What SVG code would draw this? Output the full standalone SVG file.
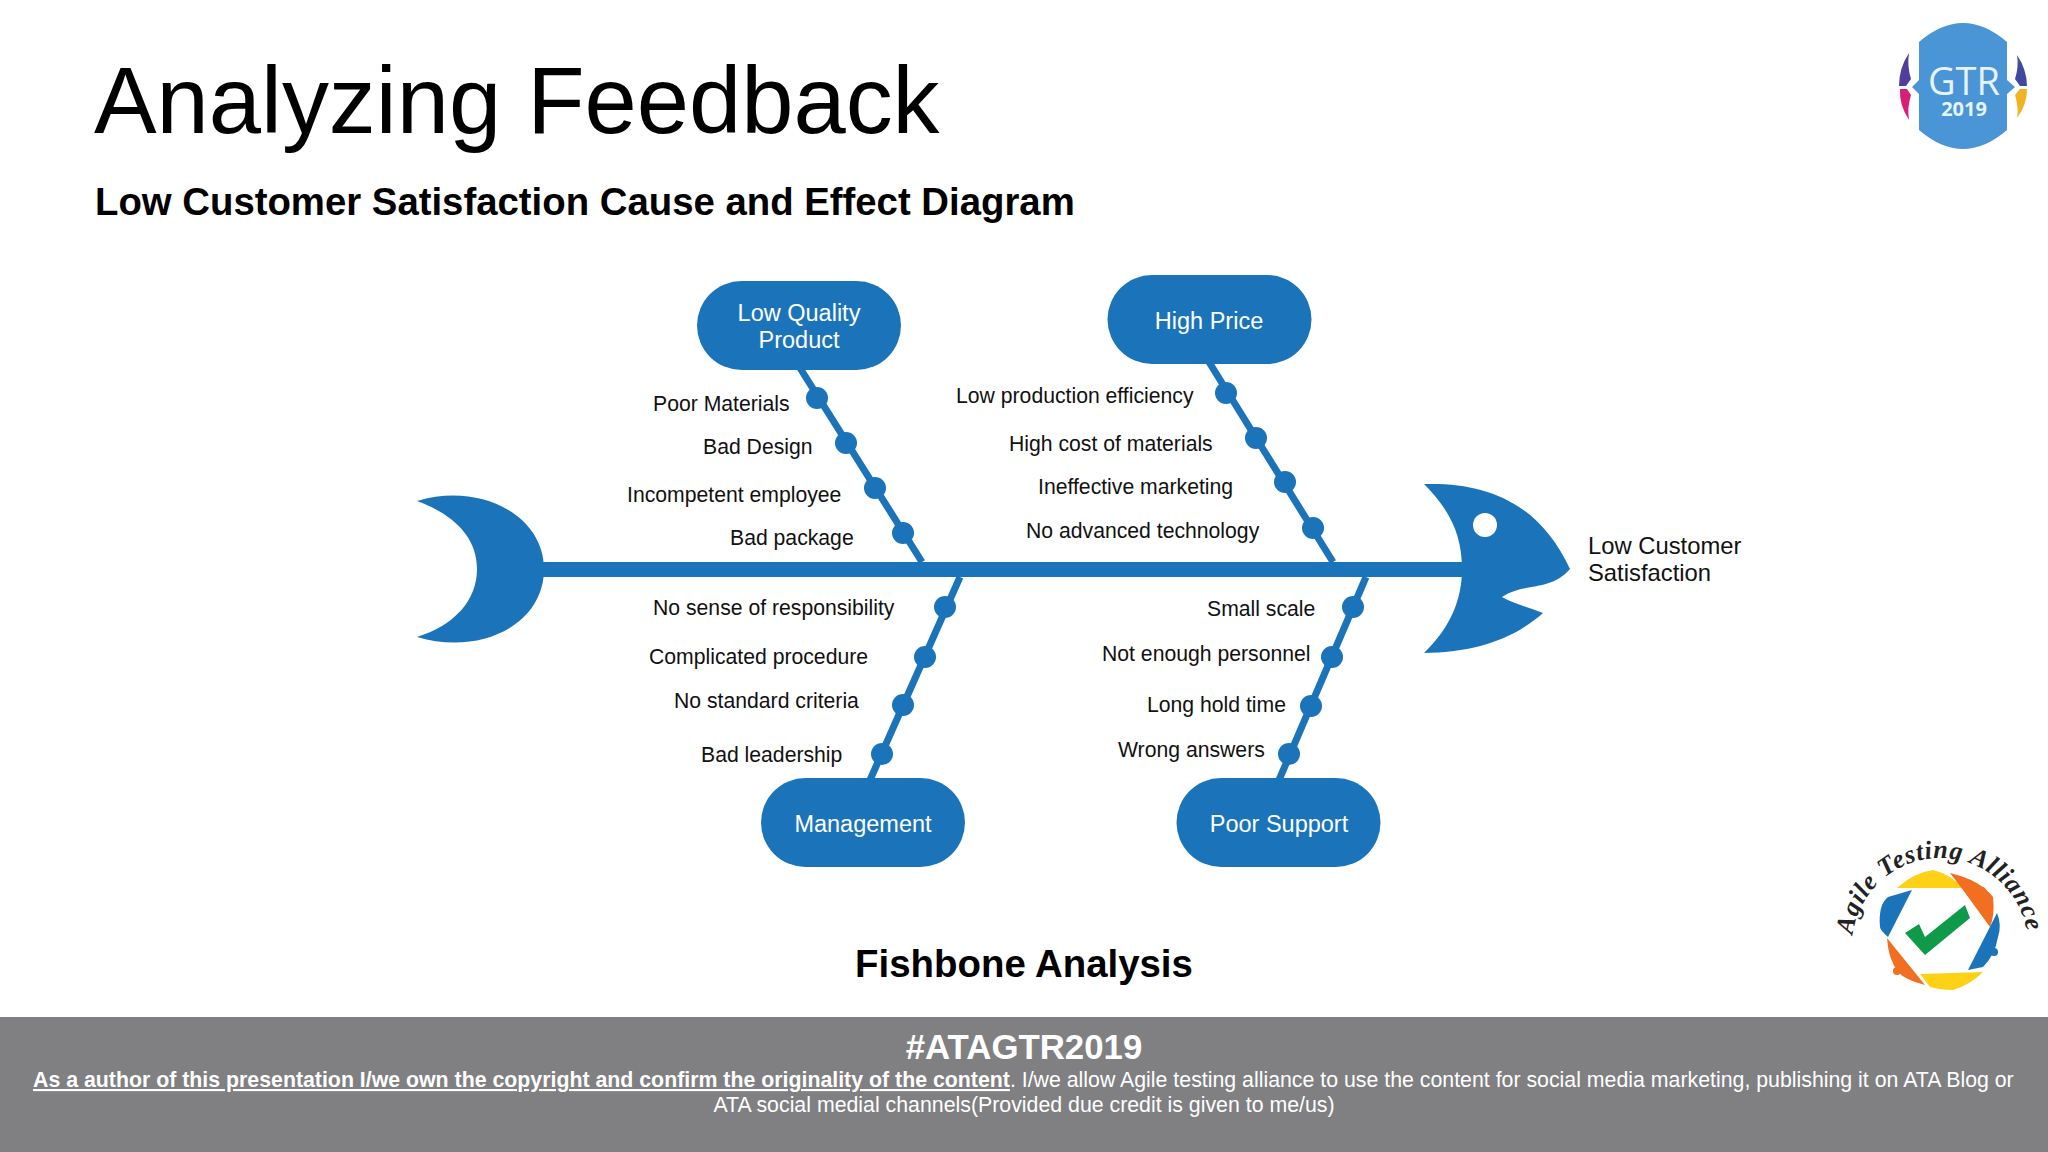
<svg xmlns="http://www.w3.org/2000/svg" width="2048" height="1152" viewBox="0 0 2048 1152">
<style>
text{font-family:"Liberation Sans",Arial,sans-serif}
.b{fill:#1b74ba}
.bone{stroke:#1b74ba;stroke-width:7;fill:none}
.l{font-size:21.2px;fill:#111}
.h{font-size:23.8px;fill:#111}
.n{font-size:23.5px;fill:#fff;text-anchor:middle}
.f{font-size:21.32px;fill:#fff}
.logo{font-family:"Open Sans",sans-serif;fill:#e6f3fb;text-anchor:middle}
.ata{font-family:"Liberation Serif",serif;font-style:italic;font-weight:700;fill:#222;font-size:26px}
</style>
<defs><path id="arc" d="M1852.700 935A88 88 0 0 1 2027.300 935"/></defs>
<rect width="2048" height="1152" fill="#fff"/>
<text x="94" y="133" font-size="93.9" fill="#000">Analyzing Feedback</text>
<text x="95" y="215" font-size="38.35" font-weight="700" fill="#000">Low Customer Satisfaction Cause and Effect Diagram</text>
<g id="connectors">
<rect id="spine" class="b" x="535" y="562" width="935" height="15"/>
<path class="bone" d="M800 368L922 562M1209 362L1333 562M960 577L870 780M1366 577L1279 780"/>
</g>
<g id="tail"><path class="b" d="M417 501C480 482 544 515 544 569C544 625 480 656 417 637C455 625 477 600 477 569C477 538 455 515 417 501Z"/></g>
<g id="head"><path class="b" d="M1424 484C1490 482 1540 505 1570 569C1550 592 1525 582 1502 597C1515 604 1530 608 1543 613C1510 642 1470 652 1424 653C1450 628 1462 600 1462 569C1462 535 1450 510 1424 484Z"/><circle cx="1485" cy="525" r="12" fill="#fff"/></g>
<g id="head-label"><text class="h" x="1588" y="554">Low Customer</text><text class="h" x="1588" y="581">Satisfaction</text></g>
<g id="node-low-quality"><rect class="b" x="697" y="281" width="204" height="89" rx="44.5"/><text class="n" x="799" y="321">Low Quality</text><text class="n" x="799" y="348">Product</text></g>
<g id="node-high-price"><rect class="b" x="1107.500" y="275" width="204" height="89" rx="44.5"/><text class="n" x="1209" y="329">High Price</text></g>
<g id="node-management"><rect class="b" x="761" y="778" width="204" height="89" rx="44.5"/><text class="n" x="863" y="832">Management</text></g>
<g id="node-poor-support"><rect class="b" x="1176.500" y="778" width="204" height="89" rx="44.5"/><text class="n" x="1279" y="832">Poor Support</text></g>
<g id="cause-1"><circle class="b" cx="817" cy="398" r="11"/><text class="l" x="653" y="411">Poor Materials</text></g>
<g id="cause-2"><circle class="b" cx="846" cy="443" r="11"/><text class="l" x="703" y="454">Bad Design</text></g>
<g id="cause-3"><circle class="b" cx="875" cy="488" r="11"/><text class="l" x="627" y="502">Incompetent employee</text></g>
<g id="cause-4"><circle class="b" cx="903" cy="533" r="11"/><text class="l" x="730" y="545">Bad package</text></g>
<g id="cause-5"><circle class="b" cx="1226" cy="393" r="11"/><text class="l" x="956" y="403">Low production efficiency</text></g>
<g id="cause-6"><circle class="b" cx="1256" cy="438" r="11"/><text class="l" x="1009" y="451">High cost of materials</text></g>
<g id="cause-7"><circle class="b" cx="1285" cy="482" r="11"/><text class="l" x="1038" y="494">Ineffective marketing</text></g>
<g id="cause-8"><circle class="b" cx="1313" cy="528" r="11"/><text class="l" x="1026" y="538">No advanced technology</text></g>
<g id="cause-9"><circle class="b" cx="945" cy="607" r="11"/><text class="l" x="653" y="615">No sense of responsibility</text></g>
<g id="cause-10"><circle class="b" cx="925" cy="657" r="11"/><text class="l" x="649" y="664">Complicated procedure</text></g>
<g id="cause-11"><circle class="b" cx="903" cy="705" r="11"/><text class="l" x="674" y="708">No standard criteria</text></g>
<g id="cause-12"><circle class="b" cx="882" cy="754" r="11"/><text class="l" x="701" y="762">Bad leadership</text></g>
<g id="cause-13"><circle class="b" cx="1353" cy="607" r="11"/><text class="l" x="1207" y="616">Small scale</text></g>
<g id="cause-14"><circle class="b" cx="1332" cy="657" r="11"/><text class="l" x="1102" y="661">Not enough personnel</text></g>
<g id="cause-15"><circle class="b" cx="1311" cy="706" r="11"/><text class="l" x="1147" y="712">Long hold time</text></g>
<g id="cause-16"><circle class="b" cx="1289" cy="754" r="11"/><text class="l" x="1118" y="757">Wrong answers</text></g>
<text x="1024" y="977" font-size="38.4" font-weight="700" text-anchor="middle" fill="#000">Fishbone Analysis</text>
<rect x="0" y="1017" width="2048" height="135" fill="#807f82"/>
<text x="1024" y="1059" font-size="34.8" font-weight="700" fill="#fff" text-anchor="middle">#ATAGTR2019</text>
<text class="f" x="33" y="1087"><tspan font-weight="700" text-decoration="underline">As a author of this presentation I/we own the copyright and confirm the originality of the content</tspan>. I/we allow Agile testing alliance to use the content for social media marketing, publishing it on ATA Blog or</text>
<text class="f" x="1024" y="1112" text-anchor="middle">ATA social medial channels(Provided due credit is given to me/us)</text>
<g id="logo-gtr">
<path d="M1919 42Q1963 4 2007 42V80L2015 87L2007 94V130Q1963 168 1919 130V94L1912 87L1919 80Z" fill="#4a95d6"/>
<path d="M1909 53Q1899 68 1899 86H1906L1911 79Q1907 66 1909 53Z" fill="#4f3f9b"/>
<path d="M1909 120Q1899 105 1900 89H1907L1911 95Q1907 108 1909 120Z" fill="#d81f78"/>
<path d="M2017 55Q2027 70 2027 86H2020L2015 79Q2019 66 2017 55Z" fill="#3f4a9e"/>
<path d="M2017 118Q2027 105 2027 89H2020L2015 95Q2019 108 2017 118Z" fill="#f0b323"/>
<text class="logo" x="1964" y="95" font-size="38">GTR</text>
<text class="logo" x="1964" y="116" font-size="20" font-weight="700">2019</text>
</g>
<g id="logo-ata">
<path d="M1897 888Q1915 872 1933 870Q1950 874 1963 888Z" fill="#fcd116"/>
<path d="M1950 873Q1980 880 1993 897Q1995 915 1990 927L1963 890Z" fill="#f26f21"/>
<path d="M1997 913Q2002 925 1998 937Q1995 955 1983 967L1968 970Z" fill="#1b74ba"/>
<path d="M1920 974L1983 972Q1970 985 1953 990Q1940 990 1930 987Z" fill="#fcd116"/>
<path d="M1887 938L1925 985Q1905 980 1898 972Q1888 958 1887 938Z" fill="#f26f21"/>
<path d="M1912 890L1888 937Q1880 930 1880 927Q1878 905 1888 897Z" fill="#1b74ba"/>
<circle cx="1886" cy="907" r="4" fill="#1b74ba"/><circle cx="1982" cy="891" r="4" fill="#f26f21"/><circle cx="1994" cy="952" r="4" fill="#1b74ba"/><circle cx="1897" cy="971" r="4" fill="#f26f21"/>
<path d="M1905 933L1919 924L1925 937L1965 905L1970 918L1925 955Z" fill="#0f9a4a"/>
<text class="ata"><textPath href="#arc" textLength="250" lengthAdjust="spacing">Agile Testing Alliance</textPath></text>
</g>
</svg>
